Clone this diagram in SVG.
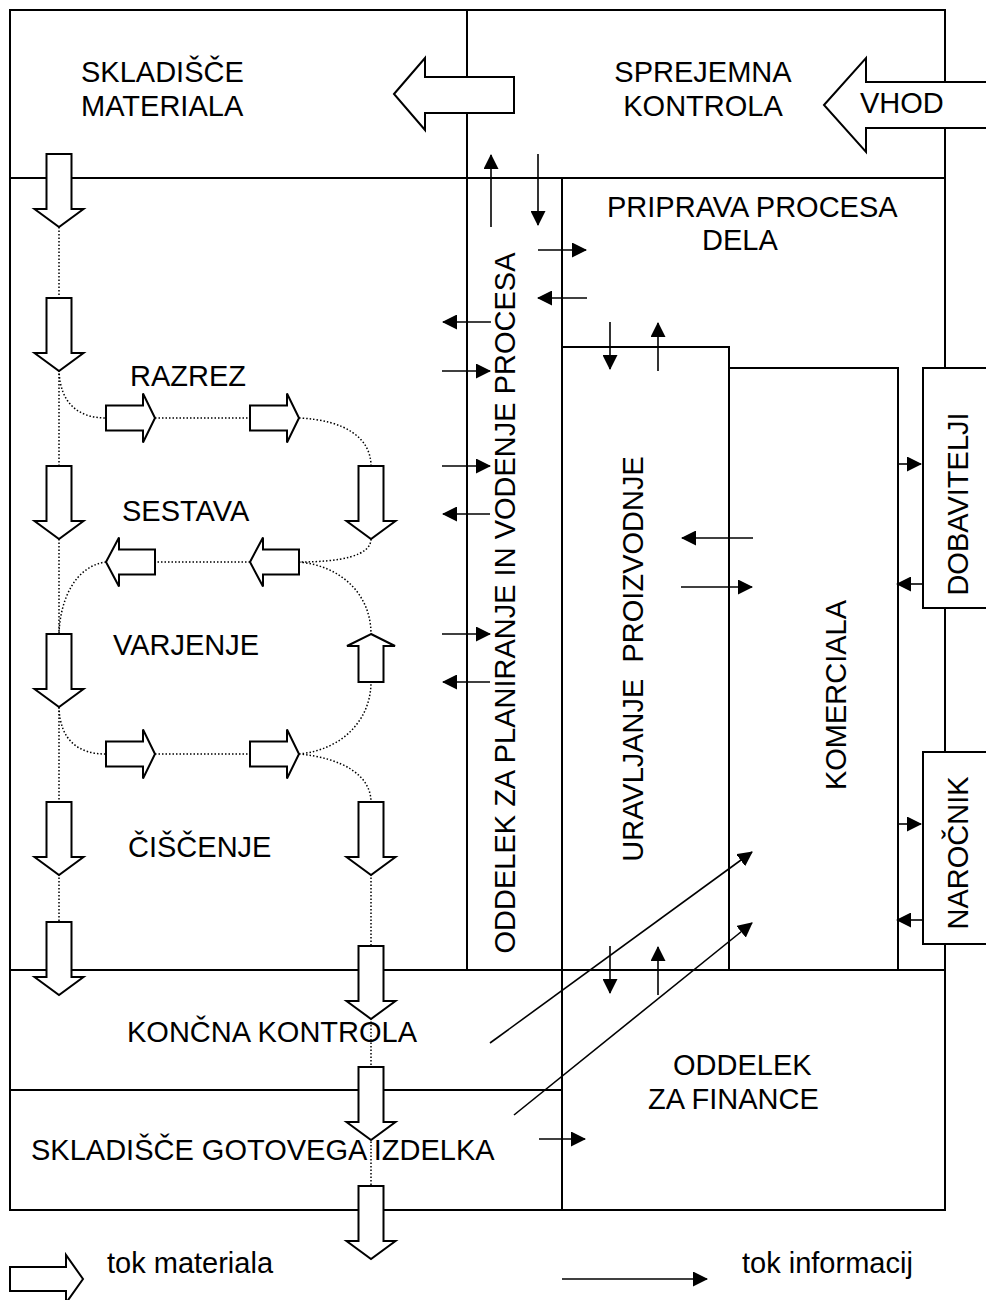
<svg xmlns="http://www.w3.org/2000/svg" xmlns:xlink="http://www.w3.org/1999/xlink" width="986" height="1300" viewBox="0 0 986 1300">
<style>
.box{fill:none;stroke:#000;stroke-width:2}
.wbox{fill:#fff;stroke:#000;stroke-width:2}
.mat{fill:#fff;stroke:#000;stroke-width:2;stroke-linejoin:miter}
.dot{fill:none;stroke:#000;stroke-width:1.5;stroke-dasharray:1.5 2}
.info{fill:none;stroke:#000;stroke-width:1.6;marker-end:url(#ah)}
.t{font-family:"Liberation Sans",Arial,sans-serif;font-size:29px;fill:#000}
.m{text-anchor:middle}
</style>
<defs>
<marker id="ah" markerUnits="userSpaceOnUse" markerWidth="15" markerHeight="15" refX="14" refY="7.5" orient="auto" viewBox="0 0 15 15">
<path d="M0,0 L15,7.5 L0,15 z" fill="#000"/>
</marker>
<polygon id="darr" points="-12.5,0 12.5,0 12.5,55 24.5,55 0,73 -24.5,55 -12.5,55"/>
<polygon id="rarr" points="0,-12.5 37,-12.5 37,-24.5 49,0 37,24.5 37,12.5 0,12.5"/>
<polygon id="larr" points="0,0 13,-24.5 13,-12.5 49,-12.5 49,12.5 13,12.5 13,24.5"/>
</defs>
<rect width="986" height="1300" fill="#fff"/>

<g id="skladisce_materiala"><rect class="box" x="10" y="10" width="457" height="168"/>
<text class="t" x="81" y="82">SKLADIŠČE</text><text class="t" x="81" y="116">MATERIALA</text></g>
<g id="sprejemna_kontrola"><rect class="box" x="467" y="10" width="478" height="168"/>
<text class="t m" x="703" y="82">SPREJEMNA</text><text class="t m" x="703" y="116">KONTROLA</text></g>
<g id="proizvodnja"><rect class="box" x="10" y="178" width="457" height="792"/>
<text class="t" x="130" y="386">RAZREZ</text>
<text class="t" x="122" y="521">SESTAVA</text>
<text class="t" x="113" y="655">VARJENJE</text>
<text class="t" x="128" y="857">ČIŠČENJE</text></g>
<g id="oddelek_planiranje"><rect class="box" x="467" y="178" width="95" height="792"/>
<text class="t m" transform="translate(515,603) rotate(-90)">ODDELEK ZA PLANIRANJE IN VODENJE PROCESA</text></g>
<g id="priprava_procesa"><rect class="box" x="562" y="178" width="383" height="792"/>
<text class="t" x="607" y="217">PRIPRAVA PROCESA</text><text class="t" x="702" y="250">DELA</text></g>
<g id="uravljanje_proizvodnje"><rect class="box" x="562" y="347" width="167" height="623"/>
<text class="t m" xml:space="preserve" transform="translate(643,659) rotate(-90)">URAVLJANJE  PROIZVODNJE</text></g>
<g id="komerciala"><rect class="box" x="729" y="368" width="169" height="602"/>
<text class="t m" transform="translate(846,695) rotate(-90)">KOMERCIALA</text></g>
<g id="dobavitelji"><rect class="wbox" x="923" y="368" width="70" height="240"/>
<text class="t m" transform="translate(968,504) rotate(-90)">DOBAVITELJI</text></g>
<g id="narocnik"><rect class="wbox" x="923" y="752" width="70" height="192"/>
<text class="t m" transform="translate(968,853) rotate(-90)">NAROČNIK</text></g>
<g id="koncna_kontrola"><rect class="box" x="10" y="970" width="552" height="120"/>
<text class="t" x="127" y="1042">KONČNA KONTROLA</text></g>
<g id="skladisce_gotovega"><rect class="box" x="10" y="1090" width="552" height="120"/>
<text class="t" x="31" y="1160">SKLADIŠČE GOTOVEGA IZDELKA</text></g>
<g id="finance"><rect class="box" x="562" y="970" width="383" height="240"/>
<text class="t" x="673" y="1075">ODDELEK</text><text class="t" x="648" y="1109">ZA FINANCE</text></g>

<g id="connectors">
<!-- dotted material paths -->
<path class="dot" d="M59,227 V298 M59,370 V466 M59,539 V634 M59,707 V802 M59,874 V922"/>
<path class="dot" d="M59,370 C60,405 80,418 106,418 M155,418 H250 M299,418 C345,420 371,438 371,466"/>
<path class="dot" d="M371,539 C371,556 340,562 299,562 M250,562 H155 M106,562 C75,566 60,600 59,634"/>
<path class="dot" d="M299,562 C342,566 371,595 371,634"/>
<path class="dot" d="M59,707 C60,742 80,754 106,754 M155,754 H250 M299,754 C342,750 371,720 371,682 M299,754 C342,758 371,775 371,802"/>
<path class="dot" d="M371,874 V947 M371,1018 V1067 M371,1138 V1187"/>
<!-- material flow arrows -->
<g class="mat">
<use xlink:href="#darr" x="59" y="154"/>
<use xlink:href="#darr" x="59" y="298"/>
<use xlink:href="#darr" x="59" y="466"/>
<use xlink:href="#darr" x="59" y="634"/>
<use xlink:href="#darr" x="59" y="802"/>
<use xlink:href="#darr" x="59" y="922"/>
<use xlink:href="#darr" x="371" y="466"/>
<use xlink:href="#darr" x="371" y="802"/>
<use xlink:href="#darr" x="371" y="946"/>
<use xlink:href="#darr" x="371" y="1067"/>
<use xlink:href="#darr" x="371" y="1186"/>
<use xlink:href="#rarr" x="106" y="418"/>
<use xlink:href="#rarr" x="250" y="418"/>
<use xlink:href="#rarr" x="106" y="754"/>
<use xlink:href="#rarr" x="250" y="754"/>
<use xlink:href="#larr" x="106" y="562"/>
<use xlink:href="#larr" x="250" y="562"/>
<polygon points="371,634 395,646 383.5,646 383.5,682 358.5,682 358.5,646 347,646"/>
<polygon points="394,94 425,58 425,77 514,77 514,113 425,113 425,130"/>
<polygon points="824,105 866,58 866,82 992,82 992,128 866,128 866,152"/>
<polygon points="10,1267 66,1267 66,1255 83,1279 66,1303 66,1291 10,1291"/>
</g>
<!-- information arrows -->
<g>
<line class="info" x1="491" y1="227" x2="491" y2="155"/>
<line class="info" x1="538" y1="154" x2="538" y2="225"/>
<line class="info" x1="538" y1="250" x2="586" y2="250"/>
<line class="info" x1="587" y1="298" x2="538" y2="298"/>
<line class="info" x1="610" y1="322" x2="610" y2="369"/>
<line class="info" x1="658" y1="371" x2="658" y2="323"/>
<line class="info" x1="491" y1="322" x2="443" y2="322"/>
<line class="info" x1="442" y1="371" x2="490" y2="371"/>
<line class="info" x1="442" y1="466" x2="490" y2="466"/>
<line class="info" x1="490" y1="514" x2="443" y2="514"/>
<line class="info" x1="442" y1="634" x2="490" y2="634"/>
<line class="info" x1="490" y1="682" x2="443" y2="682"/>
<line class="info" x1="753" y1="538" x2="682" y2="538"/>
<line class="info" x1="681" y1="587" x2="752" y2="587"/>
<line class="info" x1="897" y1="464" x2="921" y2="464"/>
<line class="info" x1="923" y1="584" x2="897" y2="584"/>
<line class="info" x1="897" y1="824" x2="921" y2="824"/>
<line class="info" x1="923" y1="920" x2="897" y2="920"/>
<line class="info" x1="490" y1="1043" x2="752" y2="852"/>
<line class="info" x1="514" y1="1115" x2="752" y2="923"/>
<line class="info" x1="610" y1="946" x2="610" y2="993"/>
<line class="info" x1="658" y1="995" x2="658" y2="947"/>
<line class="info" x1="539" y1="1139" x2="585" y2="1139"/>
<line class="info" x1="562" y1="1279" x2="707" y2="1279"/>
</g>
</g>
<text class="t" x="860" y="113">VHOD</text>
<text class="t" x="107" y="1273">tok materiala</text>
<text class="t" x="742" y="1273">tok informacij</text>
</svg>
